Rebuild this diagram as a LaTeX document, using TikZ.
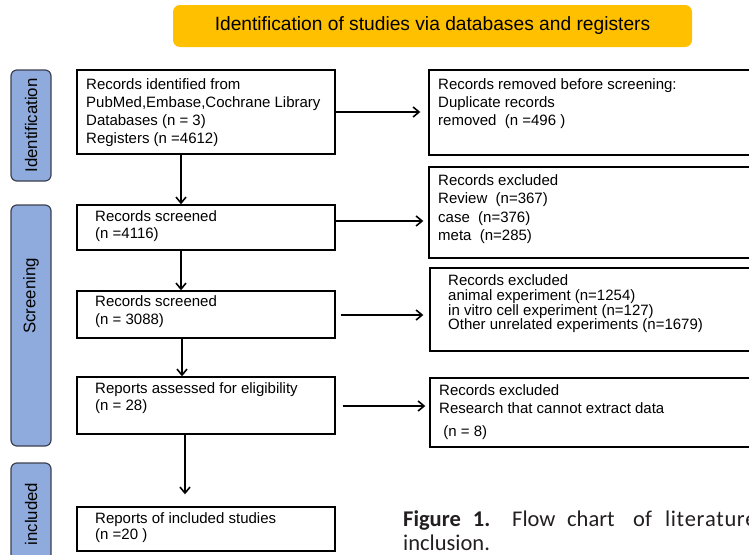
\documentclass[tikz,border=0pt]{standalone}
\usepackage{fontspec}
\setmainfont{Liberation Sans}
\newfontfamily\capfont{Carlito}
\usetikzlibrary{arrows.meta}
\definecolor{stagefill}{RGB}{143,170,220}
\definecolor{stageborder}{RGB}{60,64,80}
\definecolor{titleyellow}{RGB}{255,192,0}
\definecolor{captext}{RGB}{35,31,32}
\begin{document}
\begin{tikzpicture}[x=1pt,y=-1pt,
  box/.style={draw=black, line width=1.4pt, rectangle, inner sep=0pt},
  stage/.style={draw=stageborder, fill=stagefill, line width=1.2pt, rounded corners=6pt, inner sep=0pt},
  stagelabel/.style={rotate=90, inner sep=0pt, font=\fontsize{16.8}{18}\selectfont},
  titlebox/.style={fill=titleyellow, rounded corners=7pt, inner sep=0pt, font=\fontsize{19.2}{21}\selectfont},
  txt/.style={anchor=north west, inner sep=0pt, align=left, font=\fontsize{15}{18}\selectfont},
  captxt/.style={anchor=base west, inner sep=0pt, text=captext, font=\capfont\fontsize{22.5}{24}\selectfont},
  arr/.style={line width=1.6pt, -{Straight Barb[length=6pt,width=10pt,line width=1.6pt]}}
]
\useasboundingbox (0,0) rectangle (749,554);

% title
\node[titlebox, minimum width=519pt, minimum height=42pt] (title) at (432.5,26) {Identification of studies via databases and registers};

% stage bars
\node[stage, minimum width=40pt, minimum height=111pt] (sid) at (31,125.5) {};
\node[stagelabel] (lid) at (31,125.5) {Identification};
\node[stage, minimum width=40pt, minimum height=241pt] (ssc) at (31,325.5) {};
\node[stagelabel] (lsc) at (31,296) {Screening};
\node[stage, minimum width=40pt, minimum height=110pt] (sin) at (31,518) {};
\node[stagelabel] (lin) at (31,514) {included};

% main boxes
\node[box, minimum width=258pt, minimum height=84pt] (b1) at (206,112) {};
\node[box, minimum width=258pt, minimum height=45pt] (b2) at (206,227.5) {};
\node[box, minimum width=258pt, minimum height=47pt] (b3) at (206,314.5) {};
\node[box, minimum width=258pt, minimum height=57pt] (b4) at (206,405.5) {};
\node[box, minimum width=258pt, minimum height=44pt] (b5) at (206,529) {};

% right boxes
\node[box, minimum width=330pt, minimum height=85pt] (r1) at (594,112.5) {};
\node[box, minimum width=330pt, minimum height=91pt] (r2) at (594,212.5) {};
\node[box, minimum width=330pt, minimum height=83pt] (r3) at (595,309.5) {};
\node[box, minimum width=330pt, minimum height=69pt] (r4) at (595,412.5) {};

% texts
\node[txt] (t1) at (86,78.6) {Records identified from\\PubMed,Embase,Cochrane Library\\Databases (n = 3)\\Registers (n =4612)};
\node[txt] (tr1) at (438,78.6) {Records removed before screening:\\Duplicate records\\removed\ \ (n =496 )};
\node[txt, font=\fontsize{15}{18.3}\selectfont] (tr2) at (438,174.6) {Records excluded\\Review\ \ (n=367)\\case\ \ (n=376)\\meta\ \ (n=285)};
\node[txt, font=\fontsize{15}{17}\selectfont] (t2) at (95,210.6) {Records screened\\(n =4116)};
\node[txt] (t3) at (95,295.6) {Records screened\\(n = 3088)};
\node[txt, font=\fontsize{15}{14.7}\selectfont] (tr3) at (448,274.6) {Records excluded\\animal experiment (n=1254)\\in vitro cell experiment (n=127)\\Other unrelated experiments (n=1679)};
\node[txt, font=\fontsize{15}{17}\selectfont] (t4) at (95,382.6) {Reports assessed for eligibility\\(n = 28)};
\node[txt] (tr4) at (439,384.6) {Records excluded\\Research that cannot extract data\\[5pt]\ (n = 8)};
\node[txt, font=\fontsize{15}{16}\selectfont] (t5) at (95,512.6) {Reports of included studies\\(n =20 )};

% connector end points
\coordinate (a2s) at ([yshift=6.5pt]b2.east);
\coordinate (a3s) at ([yshift=-0.5pt]b3.east);
\coordinate (a4s) at ([yshift=-0.5pt]b4.east);

% vertical arrows
\draw[arr] ([xshift=-25pt]b1.south) -- ([xshift=-25pt]b2.north);
\draw[arr] ([xshift=-25pt]b2.south) -- ([xshift=-25pt]b3.north);
\draw[arr] ([xshift=-24pt]b3.south) -- ([xshift=-24pt]b4.north);
\draw[arr, shorten >=12pt] ([xshift=-21pt]b4.south) -- ([xshift=-21pt]b5.north);

% horizontal arrows
\draw[arr, shorten >=8pt] (b1.east) -- (r1.west |- b1.east);
\draw[arr, shorten >=5pt] (a2s) -- (r2.west |- a2s);
\draw[arr, shorten <=5pt, shorten >=6pt] (a3s) -- (r3.west |- a3s);
\draw[arr, shorten <=7pt, shorten >=4pt] (a4s) -- (r4.west |- a4s);

% caption
\node[captxt] (cap1) at (403,526) {\makebox[109pt][l]{\textbf{Figure\hspace{12pt}1.}}\makebox[55pt][l]{Flow}\makebox[66pt][l]{chart}\makebox[32pt][l]{of}l\hspace{0.6pt}i\hspace{0.6pt}t\hspace{0.6pt}e\hspace{0.6pt}r\hspace{0.6pt}a\hspace{0.6pt}t\hspace{0.6pt}u\hspace{0.6pt}r\hspace{0.6pt}e};
\node[captxt] (cap2) at (403,550) {inclusion.};
\end{tikzpicture}
\end{document}
